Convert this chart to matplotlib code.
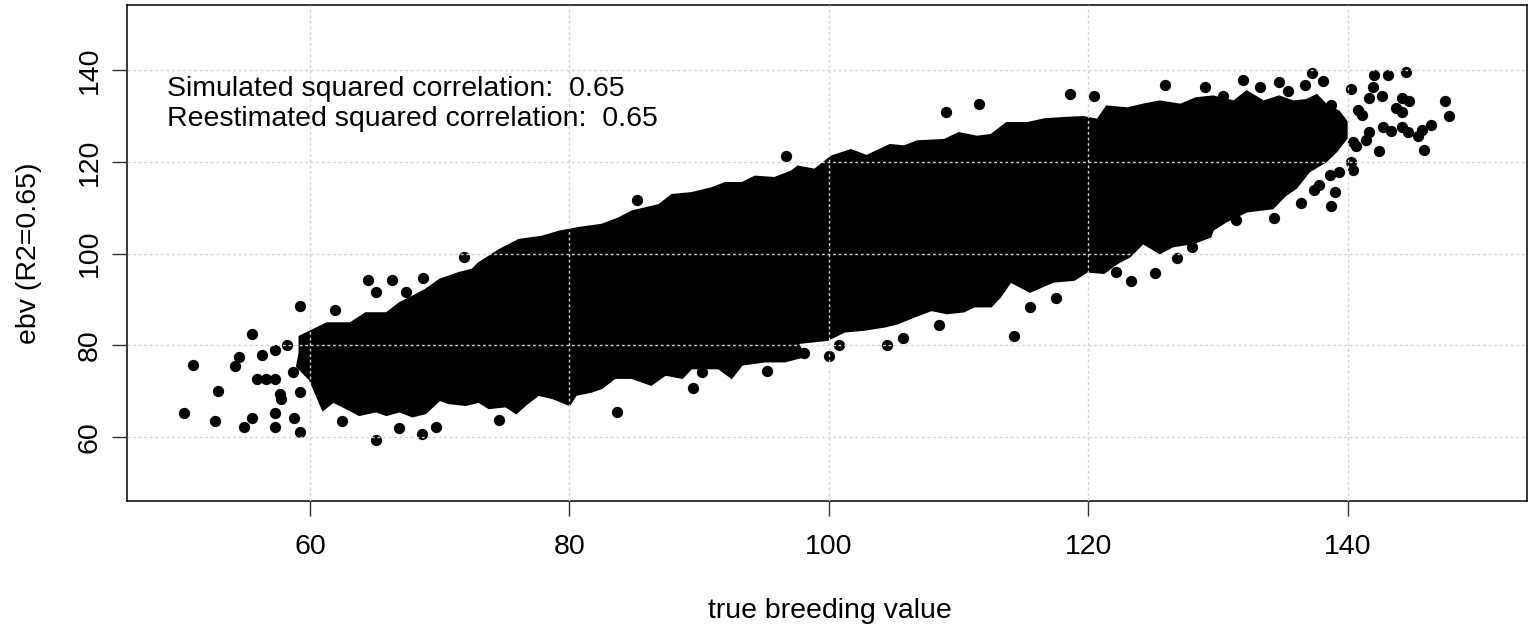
import numpy as np
import matplotlib
matplotlib.use("Agg")
import matplotlib.pyplot as plt

# outline of the solid, fully overplotted core of the cloud
core_x = [59.0, 59.2, 59.2, 60.0, 61.3, 63.1, 64.3, 65.9, 66.9, 67.9, 68.9, 70.0, 71.5, 72.5,
          73.0, 74.6, 76.1, 77.9, 79.2, 80.7, 82.5, 83.8, 84.8, 86.9, 87.9, 89.4, 91.0, 92.0,
          93.3, 94.3, 95.8, 97.1, 97.6, 98.9, 100.2, 101.7, 102.9, 104.7, 105.8, 106.8, 108.9,
          110.0, 111.4, 112.5, 113.7, 115.3, 116.6, 118.1, 119.6, 120.7, 121.4, 123.0, 124.2,
          125.5, 127.1, 128.3, 129.6, 131.2, 132.2, 133.5, 134.7, 135.8, 136.8, 137.6, 138.3,
          139.3, 139.9, 139.9, 139.1, 138.3, 137.0, 136.0, 135.2, 134.2, 132.2, 130.6, 129.6,
          129.4, 128.1, 126.5, 125.5, 124.2, 123.2, 122.2, 121.2, 119.9, 118.9, 117.3, 115.5,
          114.0, 113.2, 112.5, 111.2, 110.4, 109.1, 107.9, 106.6, 105.3, 104.3, 102.7, 101.2,
          99.9, 97.6, 98.1, 96.6, 95.1, 93.3, 92.5, 91.5, 89.4, 88.7, 87.4, 86.3, 84.8, 83.5,
          82.5, 81.7, 80.5, 80.0, 78.7, 77.6, 76.6, 75.9, 75.1, 73.8, 73.0, 72.0, 70.7, 70.0,
          68.9, 67.9, 66.9, 65.9, 65.1, 63.8, 62.8, 61.8, 61.0, 60.0]
core_y = [75.4, 78.3, 81.9, 83.0, 84.8, 84.8, 87.0, 87.0, 89.2, 90.6, 92.1, 94.3, 95.8, 96.5,
          97.9, 100.8, 103.0, 103.7, 104.8, 105.6, 106.3, 107.7, 109.2, 110.6, 112.8, 113.2,
          114.3, 115.4, 115.4, 116.8, 116.5, 117.9, 119.0, 118.3, 121.2, 122.6, 121.3, 123.7,
          123.4, 124.5, 124.8, 126.3, 125.5, 125.9, 128.5, 128.5, 129.3, 129.6, 129.8, 129.2,
          132.1, 131.7, 132.5, 133.2, 132.5, 133.9, 134.3, 133.2, 135.4, 133.2, 134.3, 133.2,
          133.5, 134.6, 132.5, 131.0, 128.8, 125.2, 122.3, 120.1, 117.9, 114.3, 112.8, 109.9,
          109.2, 107.0, 105.2, 103.7, 102.3, 101.6, 100.1, 102.3, 99.4, 97.9, 95.8, 96.1, 94.3,
          93.9, 91.7, 93.9, 90.6, 88.5, 88.5, 87.4, 87.0, 87.7, 86.3, 84.8, 84.1, 83.4, 83.0,
          81.2, 80.5, 77.6, 76.5, 76.5, 75.8, 72.9, 75.0, 75.0, 72.9, 73.6, 71.4, 72.9, 72.9,
          70.7, 69.9, 69.2, 67.0, 68.5, 69.2, 67.0, 65.2, 66.7, 66.3, 67.7, 67.0, 67.4, 68.1,
          65.2, 64.5, 65.6, 64.8, 65.6, 64.8, 66.3, 67.7, 65.9, 72.5]

# individual points that stand apart from the core
pts_x = [50.3, 51.0, 52.7, 52.9, 54.2, 54.5, 54.9, 55.5, 55.5, 56.3, 55.9, 56.6, 57.3, 57.3,
         57.3, 57.3, 58.2, 57.7, 57.8, 58.8, 59.2, 59.2, 58.7, 59.2, 61.9, 62.5, 64.5, 65.1,
         66.9, 66.3, 68.6, 69.7, 74.6, 83.7, 89.5, 90.2, 95.2, 68.7, 71.9, 65.1, 67.4,
         85.2, 96.7, 109.0, 111.6, 118.6, 120.4, 125.9,
         98.1, 100.0, 100.8, 104.5, 105.7, 108.5, 114.3, 115.5, 117.5, 122.1, 123.3, 125.1,
         126.8, 128.0, 134.3, 136.4, 138.7, 139.0, 140.4, 142.4, 145.9, 147.5, 147.8, 144.5,
         143.1, 142.0,
         129.0, 130.4, 131.9, 133.2, 134.7, 135.4, 136.7, 137.2, 138.1, 138.7, 140.2, 141.9,
         142.6, 141.6, 141.1, 140.8, 144.2, 144.7, 143.7, 144.2, 142.7, 143.3, 144.2, 144.6,
         146.4, 145.7, 145.4, 141.6, 141.4, 140.4, 140.6, 140.2, 139.3, 138.6, 137.8, 137.4,
         131.4]
pts_y = [65.3, 75.7, 63.5, 70.1, 75.5, 77.5, 62.2, 64.2, 82.4, 77.9, 72.6, 72.6, 72.6, 78.9,
         65.3, 62.2, 80.0, 69.4, 68.3, 64.2, 61.1, 88.5, 74.2, 69.9, 87.7, 63.6, 94.3, 59.4,
         62.0, 94.3, 60.6, 62.1, 63.8, 65.4, 70.7, 74.2, 74.4, 94.6, 99.2, 91.7, 91.7,
         111.6, 121.3, 131.0, 132.7, 134.8, 134.4, 136.9,
         78.3, 77.7, 80.1, 80.0, 81.6, 84.5, 82.1, 88.3, 90.3, 96.0, 94.1, 95.7,
         99.0, 101.4, 107.8, 111.0, 110.4, 113.5, 118.3, 122.4, 122.6, 133.4, 130.1, 139.7,
         139.0, 139.0,
         136.3, 134.3, 137.8, 136.4, 137.4, 135.4, 136.8, 139.4, 137.7, 132.5, 135.9, 136.4,
         134.3, 133.9, 130.3, 131.4, 133.9, 133.2, 131.7, 131.0, 127.7, 126.8, 127.7, 126.5,
         128.1, 127.0, 125.7, 126.6, 124.8, 124.4, 123.4, 120.1, 117.9, 117.2, 115.0, 113.9,
         107.4]

ticks = [60, 80, 100, 120, 140]
notes = ["Simulated squared correlation:  0.65",
         "Reestimated squared correlation:  0.65"]

plt.rcParams['font.family'] = ['Liberation Sans', 'DejaVu Sans']
fs = 20.5

fig = plt.figure(figsize=(15.29, 6.26), dpi=100)
ax = fig.add_axes([127 / 1529, 1 - 501.2 / 626, 1400 / 1529, 496 / 626])

ax.fill(core_x, core_y, color='black', lw=1.5, zorder=1)
ax.scatter(pts_x, pts_y, s=66, c='black', linewidths=0, zorder=1)

ax.set_xlim(45.9, 153.8)
ax.set_ylim(46.0, 154.2)
ax.set_xticks(ticks)
ax.set_yticks(ticks)
ax.set_xticklabels([str(t) for t in ticks])
ax.set_yticklabels([str(t) for t in ticks], rotation=90, va='center')
ax.tick_params(length=10.8, width=1, labelsize=fs, color='#333333')
ax.tick_params(axis='x', pad=13)
ax.tick_params(axis='y', pad=6.5)

# grid goes over the points, as in the original
ax.grid(True, color='#D3D3D3', linestyle=(0, (2, 2)), lw=1)
ax.set_axisbelow(False)
for s in ax.spines.values():
    s.set_linewidth(1.1)

ax.text(49.0, 134.4, notes[0], fontsize=fs, va='baseline', ha='left')
ax.text(49.0, 127.9, notes[1], fontsize=fs, va='baseline', ha='left')

fig.text(829.7 / 1529, 1 - 617.7 / 626, "true breeding value", fontsize=fs,
         ha='center', va='baseline')
fig.text(36 / 1529, 1 - 253.2 / 626, "ebv (R2=0.65)", fontsize=fs, rotation=90,
         rotation_mode='anchor', ha='center', va='baseline')

fig.savefig("out.png", dpi=100)
